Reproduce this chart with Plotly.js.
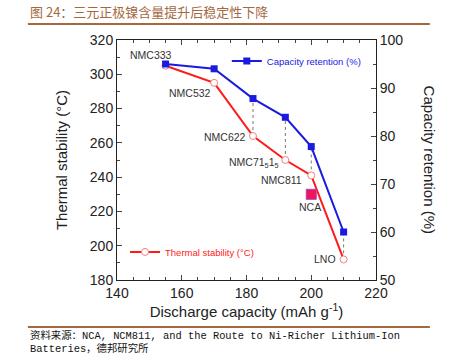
<!DOCTYPE html>
<html><head><meta charset="utf-8">
<script src="https://cdn.plot.ly/plotly-3.0.1.min.js"></script>
<style>html,body{margin:0;padding:0;background:#fff}#c{width:454px;height:355px}</style>
</head><body><div id="c"></div>
<script>
const materials = ["NMC333","NMC532","NMC622","NMC71<sub>5</sub>1<sub>5</sub>","NMC811","LNO"];
const capacity = [155,170,182,192,200,210];
const thermal = [305,295,264,250,241,192];
const retention = [95,94,87.8,83.9,77.8,60];
const ncaCapacity = [200];
const ncaThermal = [230];
const connectorIdx = [2,3,4,5];

const leftRange=[180,320], rightRange=[50,100];
const toLeft = v => leftRange[0] + (v-rightRange[0])*(leftRange[1]-leftRange[0])/(rightRange[1]-rightRange[0]);

const traces = [];
connectorIdx.forEach(i=>{
  traces.push({x:[capacity[i],capacity[i]], y:[thermal[i], toLeft(retention[i])], mode:'lines',
    line:{color:'#777',width:1,dash:'dot'}, showlegend:false, hoverinfo:'skip'});
});
traces.push({x:capacity, y:thermal, mode:'lines+markers', name:'Thermal stability (°C)', legend:'legend2',
  line:{color:'#ff1a1a',width:2}, marker:{symbol:'circle',size:7,color:'#fff',line:{color:'#f08080',width:1}}});
traces.push({x:capacity, y:retention, yaxis:'y2', mode:'lines+markers', name:'Capacity retention (%)', legend:'legend',
  line:{color:'#1a1ae0',width:2}, marker:{symbol:'square',size:7,color:'#1a1ae0'}});
traces.push({x:ncaCapacity, y:ncaThermal, mode:'markers', showlegend:false,
  marker:{symbol:'square',size:10,color:'#f0145a',line:{color:'#b040c0',width:1}}});

const ann = [];
const labelDx = [-15,-24,-28,-31,-30,-19];
const labelDy = [11,-10,-1,-3,-5,0];
const lblFont = {size:10.5,color:'#333',family:'Liberation Sans, Arial'};
materials.forEach((m,i)=>{
  ann.push({x:capacity[i], y:thermal[i], text:m, showarrow:false, xshift:labelDx[i], yshift:labelDy[i], font:lblFont});
});
ann.push({x:ncaCapacity[0], y:ncaThermal[0], text:'NCA', showarrow:false, xshift:-1, yshift:-13, font:lblFont});
ann.push({xref:'paper',yref:'paper',x:1.21,y:0.5,xanchor:'center',yanchor:'middle',text:'Capacity retention (%)',textangle:90,showarrow:false,
  font:{size:15,color:'#222',family:'Liberation Sans, Arial'}});
ann.push({xref:'paper',yref:'paper',x:-0.344,y:1.1167,xanchor:'left',yanchor:'middle',text:'图 24：三元正极镍含量提升后稳定性下降',showarrow:false,
  font:{size:13,color:'#a5693f',family:'Noto Sans CJK SC'}});
ann.push({xref:'paper',yref:'paper',x:-0.344,y:-0.233,xanchor:'left',yanchor:'middle',text:'资料来源：NCA, NCM811, and the Route to Ni-Richer Lithium-Ion',showarrow:false,
  font:{size:10.4,color:'#111',family:'Liberation Mono, Noto Sans CJK SC'}});
ann.push({xref:'paper',yref:'paper',x:-0.344,y:-0.285,xanchor:'left',yanchor:'middle',text:'Batteries，德邦研究所',showarrow:false,
  font:{size:10.4,color:'#111',family:'Liberation Mono, Noto Sans CJK SC'}});

const axFont = {size:14,color:'#222',family:'Liberation Sans, Arial'};
const layout = {
  width:454,height:355,margin:{l:117,r:78,t:40,b:75},
  paper_bgcolor:'#fff',plot_bgcolor:'#fff',
  font:{family:'Liberation Sans, Arial'},
  xaxis:{range:[140,220],dtick:20,ticks:'inside',ticklen:5,tickwidth:1,showline:true,linecolor:'#222',linewidth:1,mirror:'ticks',
    showgrid:false,zeroline:false,tickfont:axFont,minor:{dtick:5,ticks:'inside',ticklen:3},
    title:{text:'Discharge capacity (mAh g<sup>-1</sup>)',font:{size:15,color:'#222'},standoff:2}},
  yaxis:{range:leftRange,dtick:20,ticks:'inside',ticklen:5,showline:true,linecolor:'#222',linewidth:1,mirror:true,
    showgrid:false,zeroline:false,tickfont:axFont,minor:{dtick:10,ticks:'inside',ticklen:3},
    title:{text:'Thermal stability (°C)',font:{size:15,color:'#222'},standoff:18}},
  yaxis2:{range:rightRange,dtick:10,overlaying:'y',side:'right',ticks:'inside',ticklen:5,showline:true,linecolor:'#222',
    showgrid:false,zeroline:false,tickfont:axFont,minor:{dtick:5,ticks:'inside',ticklen:3}},
  legend:{x:0.424,y:0.9125,xanchor:'left',yanchor:'middle',bgcolor:'rgba(0,0,0,0)',font:{size:9.5,color:'#1a1ae0'},itemwidth:30},
  legend2:{x:0.031,y:0.117,xanchor:'left',yanchor:'middle',bgcolor:'rgba(0,0,0,0)',font:{size:9.5,color:'#ff1a1a'},itemwidth:30},
  showlegend:true,
  annotations:ann,
  shapes:[
    {type:'line',xref:'paper',yref:'paper',x0:-0.344,x1:1.208,y0:1.0667,y1:1.0667,line:{color:'#a5693f',width:2}},
    {type:'line',xref:'paper',yref:'paper',x0:-0.344,x1:1.208,y0:-0.196,y1:-0.196,line:{color:'#a5693f',width:2}}
  ]
};
Plotly.newPlot('c',traces,layout,{staticPlot:true});
</script></body></html>
